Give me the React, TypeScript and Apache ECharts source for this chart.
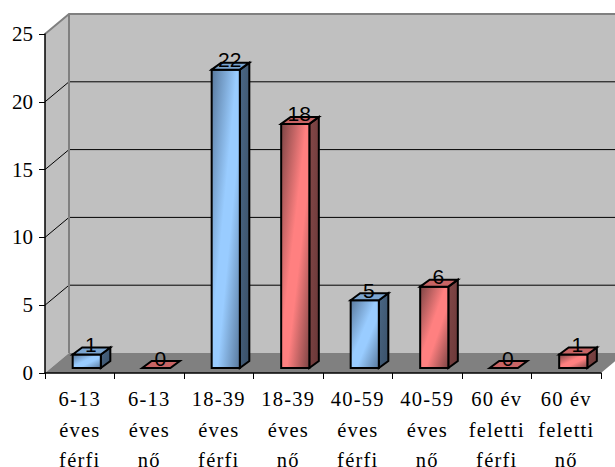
import React, { useEffect, useRef } from "react";
import * as echarts from "echarts";

const categories = [
  "6-13\néves\nférfi",
  "6-13\néves\nnő",
  "18-39\néves\nférfi",
  "18-39\néves\nnő",
  "40-59\néves\nférfi",
  "40-59\néves\nnő",
  "60 év\nfeletti\nférfi",
  "60 év\nfeletti\nnő",
];
const values = [1, 0, 22, 18, 5, 6, 0, 1];
const colorKeys = [0, 1, 0, 1, 0, 1, 1, 1];
const gridValues = [5, 10, 15, 20];
const yMin = 0;
const yMax = 25;
const yInterval = 5;

const WALL_DX = 24;
const WALL_DY = -20;
const BAR_SHIFT_X = 7;
const BAR_SHIFT_Y = -5;
const BAR_DX = 9.5;
const BAR_DY = -7;
const WALL = "#c0c0c0";
const FLOOR = "#808080";
const EDGE = "#808080";

const palette = [
  { dark: "#58789c", light: "#99ccff", side: "#4a6785", sideDark: "#3a5068", top: "#7ba5d0" },
  { dark: "#7c4444", light: "#ff8080", side: "#834848", sideDark: "#6a3838", top: "#c86464" },
];

function renderWalls(_p: any, api: any) {
  const [x0, y0] = api.coord([0, yMin]);
  const size = api.size([1, 0]);
  const catW = size[0];
  const left = x0 - catW / 2;
  const right = left + catW * categories.length;
  const yTop = api.coord([0, yMax])[1];
  const children: any[] = [
    {
      type: "polygon",
      shape: { points: [[left + WALL_DX, yTop + WALL_DY], [right + WALL_DX, yTop + WALL_DY], [right + WALL_DX, y0 + WALL_DY], [left + WALL_DX, y0 + WALL_DY]] },
      style: { fill: WALL },
    },
    {
      type: "polygon",
      shape: { points: [[left, yTop], [left + WALL_DX, yTop + WALL_DY], [left + WALL_DX, y0 + WALL_DY], [left, y0]] },
      style: { fill: WALL },
    },
    {
      type: "polygon",
      shape: { points: [[left, y0], [left + WALL_DX, y0 + WALL_DY], [right + WALL_DX, y0 + WALL_DY], [right, y0]] },
      style: { fill: FLOOR },
    },
  ];
  gridValues.forEach((v) => {
    const y = api.coord([0, v])[1];
    children.push({
      type: "polyline",
      shape: { points: [[left, y], [left + WALL_DX, y + WALL_DY], [right + WALL_DX, y + WALL_DY]] },
      style: { fill: "none", stroke: "#000000", lineWidth: 1 },
    });
  });
  children.push({
    type: "polyline",
    shape: { points: [[left, yTop], [left + WALL_DX, yTop + WALL_DY], [right + WALL_DX, yTop + WALL_DY]] },
    style: { fill: "none", stroke: EDGE, lineWidth: 2 },
  });
  children.push({
    type: "line",
    shape: { x1: left + WALL_DX, y1: yTop + WALL_DY, x2: left + WALL_DX, y2: y0 + WALL_DY },
    style: { stroke: EDGE, lineWidth: 2 },
  });
  return { type: "group", children };
}

function renderBar(_p: any, api: any) {
  const i = api.value(0);
  const v = api.value(1);
  const c = palette[colorKeys[i]];
  const w = api.size([1, 0])[0] * 0.405;
  const base = api.coord([i, 0]);
  const topPt = api.coord([i, v]);
  const x1 = base[0] + BAR_SHIFT_X - w / 2;
  const x2 = x1 + w;
  const yb = base[1] + BAR_SHIFT_Y;
  const yt = topPt[1] + BAR_SHIFT_Y;
  const stroke = { stroke: "#000000", lineWidth: 2, lineJoin: "miter" };
  const children: any[] = [];
  if (v > 0) {
    children.push({
      type: "polygon",
      shape: { points: [[x2, yb], [x2 + BAR_DX, yb + BAR_DY], [x2 + BAR_DX, yt + BAR_DY], [x2, yt]] },
      style: {
        fill: new echarts.graphic.LinearGradient(0, 0, 1, 1, [
          { offset: 0, color: c.side },
          { offset: 1, color: c.sideDark },
        ]),
        ...stroke,
      },
    });
    children.push({
      type: "polygon",
      shape: { points: [[x1, yt], [x2, yt], [x2, yb], [x1, yb]] },
      style: {
        fill: new echarts.graphic.LinearGradient(0, 0, 1, 1, [
          { offset: 0, color: c.dark },
          { offset: 0.45, color: c.light },
          { offset: 0.6, color: c.light },
          { offset: 1, color: c.dark },
        ]),
        ...stroke,
      },
    });
  }
  children.push({
    type: "polygon",
    shape: { points: [[x1, yt], [x1 + BAR_DX, yt + BAR_DY], [x2 + BAR_DX, yt + BAR_DY], [x2, yt]] },
    style: { fill: c.top, ...stroke },
  });
  children.push({
    type: "text",
    x: (x1 + x2) / 2 + 4,
    y: yt - 10,
    style: {
      text: String(v),
      fill: "#000000",
      fontSize: 21,
      fontFamily: "Liberation Sans",
      align: "center",
      verticalAlign: "middle",
    },
  });
  return { type: "group", children };
}

export default function App() {
  const ref = useRef<HTMLDivElement>(null);
  useEffect(() => {
    const chart = echarts.init(ref.current!, null, { renderer: "svg" });
    chart.setOption({
      animation: false,
      backgroundColor: "#ffffff",
      grid: { left: 45, right: 14, top: 34, bottom: 94, containLabel: false, outerBoundsMode: "none" },
      xAxis: {
        type: "category",
        data: categories,
        z: 10,
        axisLine: { show: true, lineStyle: { color: "#000000", width: 1.5 } },
        axisTick: { show: true, length: 6, alignWithLabel: false, lineStyle: { color: "#000000", width: 1 } },
        axisLabel: {
          interval: 0,
          margin: 11,
          fontSize: 20.5,
          lineHeight: 30.5,
          color: "#000000",
          fontFamily: "Liberation Serif",
        },
      },
      yAxis: {
        type: "value",
        min: yMin,
        max: yMax,
        interval: yInterval,
        z: 10,
        splitLine: { show: false },
        axisLine: { show: true, lineStyle: { color: "#000000", width: 1.5 } },
        axisTick: { show: true, length: 6, lineStyle: { color: "#000000", width: 1 } },
        axisLabel: { margin: 12, fontSize: 21, color: "#000000", fontFamily: "Liberation Serif" },
      },
      series: [
        { type: "custom", silent: true, z: 1, data: [[0, 0]], renderItem: renderWalls },
        { type: "custom", silent: true, z: 3, data: values.map((v, i) => [i, v]), renderItem: renderBar },
      ],
    });
    return () => chart.dispose();
  }, []);
  return (
    <>
      <style>{'text[style*="20.5px"]{letter-spacing:1.2px}'}</style>
      <div ref={ref} style={{ position: "absolute", left: 0, top: 0, width: 615, height: 467, overflow: "hidden" }} />
    </>
  );
}
